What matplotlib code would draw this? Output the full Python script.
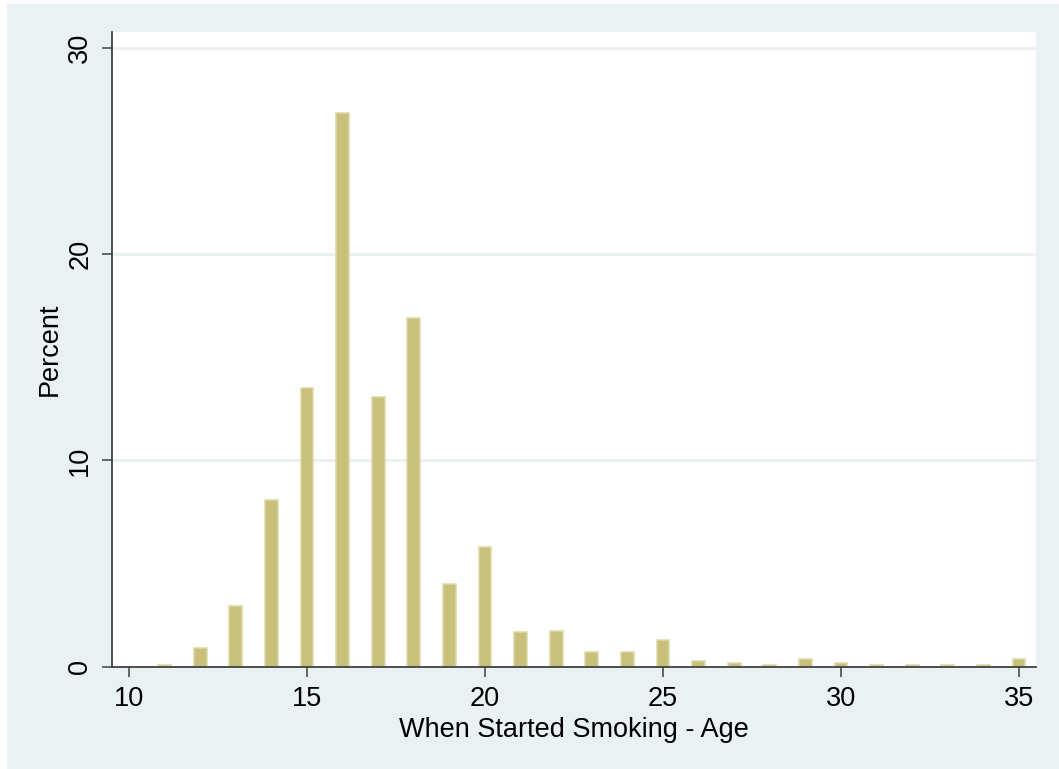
import numpy as np
import matplotlib.pyplot as plt
import matplotlib.patches as mpatches

# Ages and percent per age
ages = [11, 12, 13, 14, 15, 16, 17, 18, 19, 20, 21, 22, 23,
        24, 25, 26, 27, 28, 29, 30, 31, 32, 33, 34, 35]
percent = [0.1, 0.9, 2.95, 8.1, 13.5, 26.85, 13.1, 16.9, 4.0, 5.8, 1.67, 1.75, 0.7,
           0.7, 1.3, 0.29, 0.19, 0.1, 0.39, 0.19, 0.1, 0.1, 0.1, 0.1, 0.39]
xticks = [10, 15, 20, 25, 30, 35]
yticks = [0, 10, 20, 30]

plt.rcParams['font.family'] = ['Liberation Sans', 'DejaVu Sans']

bg = '#eaf1f3'
fig = plt.figure(figsize = (10.59, 7.69), dpi = 100, facecolor = 'white')
# Stata-like graph region (behind the axes)
fig.patches.append(mpatches.Rectangle((7 / 1059, 0), 1 - 7 / 1059, 1 - 4 / 769,
                                      transform = fig.transFigure, facecolor = bg,
                                      edgecolor = 'none', zorder = -5))

ax = fig.add_axes([112 / 1059, 1 - 667 / 769, (1036 - 112) / 1059, (667 - 32) / 769])
ax.set_zorder(2)
ax.set_facecolor('white')

# Gridlines
for y in yticks[1:]:
    ax.axhline(y, color = bg, lw = 2, zorder = 1)

ax.bar(ages, percent, width = 0.36, color = '#c9c17b', edgecolor = '#dcd7a4',
       linewidth = 1.1, zorder = 2)

ax.set_xlim(9.52, 35.48)
ax.set_ylim(-0.02, 30.78)
ax.set_xticks(xticks)
ax.set_yticks(yticks)
ax.tick_params(axis = 'both', length = 7.5, width = 1.1, color = '#404040',
               labelsize = 19.5, pad = 6)
for lab in ax.get_yticklabels():
    lab.set_rotation(90)
    lab.set_va('center')

for side in ['top', 'right']:
    ax.spines[side].set_visible(False)
for side in ['left', 'bottom']:
    ax.spines[side].set_color('#404040')
    ax.spines[side].set_linewidth(1.3)

ax.set_xlabel('When Started Smoking - Age', fontsize = 19.5, labelpad = 4)
ax.set_ylabel('Percent', fontsize = 19.5, labelpad = 3)

plt.savefig('out.png', dpi = 100)
